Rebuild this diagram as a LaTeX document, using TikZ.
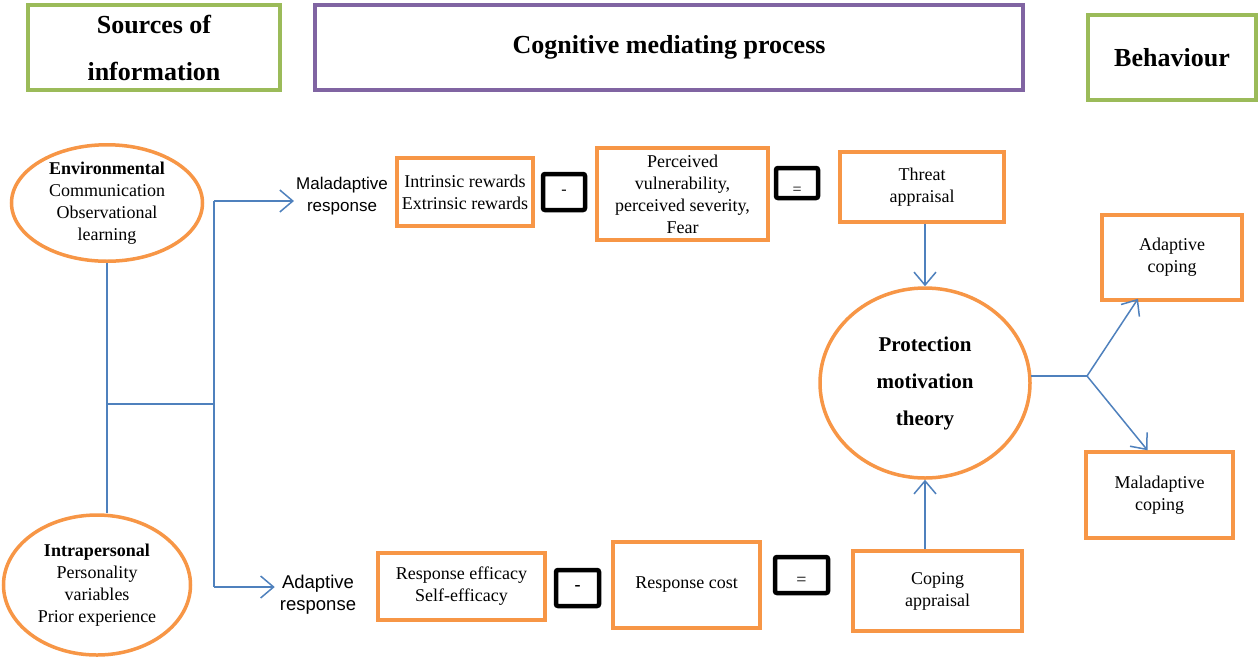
\documentclass[tikz,border=0pt]{standalone}
\usepackage{fontspec}
\setmainfont{Liberation Serif}
\setsansfont{Liberation Sans}
\usetikzlibrary{shapes.geometric,arrows.meta}
\definecolor{org}{HTML}{F79646}
\definecolor{grn}{HTML}{9BBB59}
\definecolor{pur}{HTML}{8064A2}
\definecolor{lblue}{HTML}{4F81BD}
\tikzset{
  obox/.style={draw=org,line width=3.5pt,fill=white,align=center,inner sep=0pt,font=\fontsize{18}{22}\selectfont},
  hbox/.style={line width=3.5pt,fill=white,align=center,inner sep=0pt,font=\fontsize{26}{47}\selectfont\bfseries},
  oell/.style={ellipse,draw=org,line width=3.5pt,fill=white,align=center,inner sep=0pt,font=\fontsize{18}{22}\selectfont},
  kbox/.style={draw=black,line width=4.5pt,rounded corners=2pt,fill=white,inner sep=0pt,font=\fontsize{16}{16}\selectfont},
  stxt/.style={align=center,inner sep=0pt,font=\sffamily\fontsize{17}{22}\selectfont},
  bl/.style={draw=lblue,line width=1.5pt},
  arr/.style={bl,-{Straight Barb[length=13pt,width=22pt,line width=1.5pt]}}
}
\begin{document}
\begin{tikzpicture}[x=1pt,y=-1pt]
\useasboundingbox[fill=white] (0,0) rectangle (1260,657);

% headers
\node[hbox,draw=grn,minimum width=252pt,minimum height=85pt] (src) at (154,47.5) {Sources of\\information};
\node[hbox,draw=pur,minimum width=708pt,minimum height=85pt] (cog) at (669,47.5) {Cognitive mediating process};
\node[hbox,draw=grn,minimum width=168pt,minimum height=85pt] (beh) at (1172,57.5) {Behaviour};

% sources
\node[oell,minimum width=191pt,minimum height=100pt] (env) at (107,203) {\textbf{Environmental}\\Communication\\Observational\\learning};
\node[oell,minimum width=187pt,minimum height=140pt] (intra) at (97,585) {\textbf{Intrapersonal}\\Personality\\variables\\Prior experience};

% response labels
\node[stxt] (malresp) at (342,196) {Maladaptive\\response};
\node[stxt,font=\sffamily\fontsize{18.5}{22}\selectfont] (adresp) at (318,595) {Adaptive\\response};

% connectors on the left
\coordinate (j1) at (107,404);
\coordinate (j2) at (214,404);
\coordinate (tp) at (214,201);
\coordinate (bt) at (214,587);
\draw[bl] (env.south) -- (env.south |- intra.north);
\draw[bl] (j1) -- (j2);
\draw[bl] (tp) -- (bt);
\draw[arr] (tp) -- ([xshift=-2pt]tp -| malresp.west);
\draw[arr] (bt) -- ([xshift=-5pt]bt -| adresp.west);

% threat path
\node[obox,minimum width=136pt,minimum height=68pt] (intr) at (465,192) {Intrinsic rewards\\Extrinsic rewards};
\node[kbox,minimum width=42pt,minimum height=36pt] (m1) at (564,192) {-};
\node[obox,minimum width=171pt,minimum height=92pt] (perc) at (682.5,194) {Perceived\\vulnerability,\\perceived severity,\\Fear};
\node[kbox,minimum width=42pt,minimum height=30pt] (e1) at (797,183) {\smash{\raisebox{-11pt}{=}}};
\node[obox,minimum width=164pt,minimum height=70pt] (threat) at (922,187) {Threat\\appraisal};

% coping path
\node[obox,minimum width=167pt,minimum height=67pt] (reff) at (461.5,586.5) {Response efficacy\\Self-efficacy};
\node[kbox,minimum width=43pt,minimum height=36pt,font=\fontsize{18}{18}\selectfont\bfseries] (m2) at (577.5,588) {-};
\node[obox,minimum width=147pt,minimum height=86pt] (rcost) at (686.5,585) {Response cost};
\node[kbox,minimum width=53pt,minimum height=36pt,font=\fontsize{18}{18}\selectfont] (e2) at (801.5,575) {\smash{\raisebox{-10pt}{=}}};
\node[obox,minimum width=169pt,minimum height=80pt] (coping) at (937.5,591) {Coping\\appraisal};

% PMT
\node[oell,minimum width=210pt,minimum height=190pt,font=\fontsize{21}{37}\selectfont\bfseries] (pmt) at (925,383) {Protection\\motivation\\theory};

% behaviour
\node[obox,minimum width=140pt,minimum height=85pt] (adc) at (1172,257.5) {Adaptive\\coping};
\node[obox,minimum width=147pt,minimum height=86pt] (malc) at (1159.5,495) {Maladaptive\\coping};

% right connectors
\draw[arr] (pmt.north |- threat.south) -- (pmt.north);
\draw[arr] (pmt.south |- coping.north) -- (pmt.south);
\coordinate (fk) at (1087,376);
\draw[bl] ([xshift=-1pt]fk -| pmt.east) -- (fk);
\draw[arr] (fk) -- ([xshift=-34pt,yshift=3pt]adc.south);
\draw[arr] (fk) -- ([xshift=-12pt]malc.north);
\end{tikzpicture}
\end{document}
